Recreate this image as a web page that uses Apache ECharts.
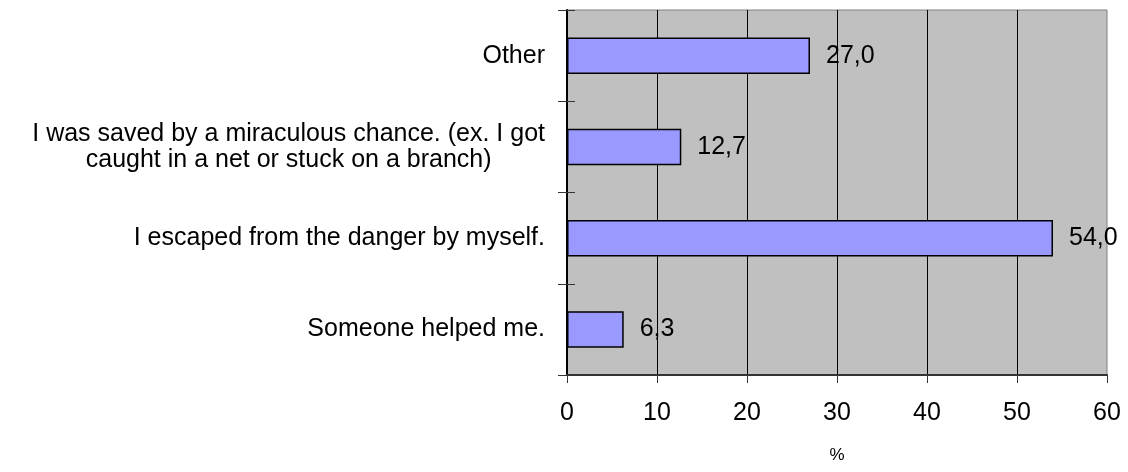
<!DOCTYPE html>
<html>
<head>
<meta charset="utf-8">
<script src="https://cdn.jsdelivr.net/npm/echarts@6/dist/echarts.min.js"></script>
<style>
  html, body { margin: 0; padding: 0; background: #fff; }
  #chart { width: 1128px; height: 472px; }
</style>
</head>
<body>
<div id="chart"></div>
<script>
// bottom to top, as ECharts draws category axes
const categories = [
  'Someone helped me.',
  'I escaped from the danger by myself.',
  'I was saved by a miraculous chance. (ex. I got\ncaught in a net or stuck on a branch)',
  'Other'
]
const values = [6.3, 54.0, 12.7, 27.0]
const xTicks = [0, 10, 20, 30, 40, 50, 60]

const font = "'Liberation Sans', Arial, sans-serif"

const chart = echarts.init(document.getElementById('chart'))
chart.setOption({
  animation: false,
  grid: {
    left: 567,
    right: 21,
    top: 10,
    bottom: 97,
    show: true,
    backgroundColor: '#c0c0c0',
    borderColor: '#808080',
    borderWidth: 1,
  },
  xAxis: {
    type: 'value',
    min: xTicks[0],
    max: xTicks[xTicks.length - 1],
    interval: 10,
    name: '%',
    nameLocation: 'middle',
    nameGap: 72,
    nameTextStyle: { fontFamily: font, fontSize: 17, color: '#000' },
    axisLine: { show: true, lineStyle: { color: '#333', width: 2 } },
    axisTick: { show: true, length: 8, lineStyle: { color: '#333' } },
    axisLabel: { margin: 26, fontFamily: font, fontSize: 25, color: '#000' },
    splitLine: {
      show: true,
      showMinLine: false,
      showMaxLine: false,
      lineStyle: { color: '#000', width: 1 },
    },
  },
  yAxis: [
    {
      type: 'category',
      data: categories,
      axisLine: { show: true, lineStyle: { color: '#000', width: 2 } },
      axisTick: { show: true, length: 9, lineStyle: { color: '#333' } },
      axisLabel: {
        margin: 22,
        color: '#000',
        // each line centred inside the label block, like the original
        formatter: v => v.split('\n').map(l => '{c|' + l + '}').join('\n'),
        rich: {
          c: {
            align: 'center',
            fontFamily: font,
            fontSize: 25,
            lineHeight: 26,
            color: '#000',
          },
        },
      },
    },
    {
      // second copy only for the inward half of the crossing ticks
      type: 'category',
      data: categories,
      position: 'left',
      axisLine: { show: false },
      axisTick: { show: true, inside: true, length: 8, lineStyle: { color: '#333' } },
      axisLabel: { show: false },
    },
  ],
  series: [
    {
      type: 'bar',
      data: values,
      barWidth: '40%',
      itemStyle: { color: '#9999ff', borderColor: '#000', borderWidth: 1.5 },
      label: {
        show: true,
        position: 'right',
        distance: 16,
        fontFamily: font,
        fontSize: 25,
        color: '#000',
        formatter: p => p.value.toFixed(1).replace('.', ','),
      },
    },
  ],
})
</script>
</body>
</html>
